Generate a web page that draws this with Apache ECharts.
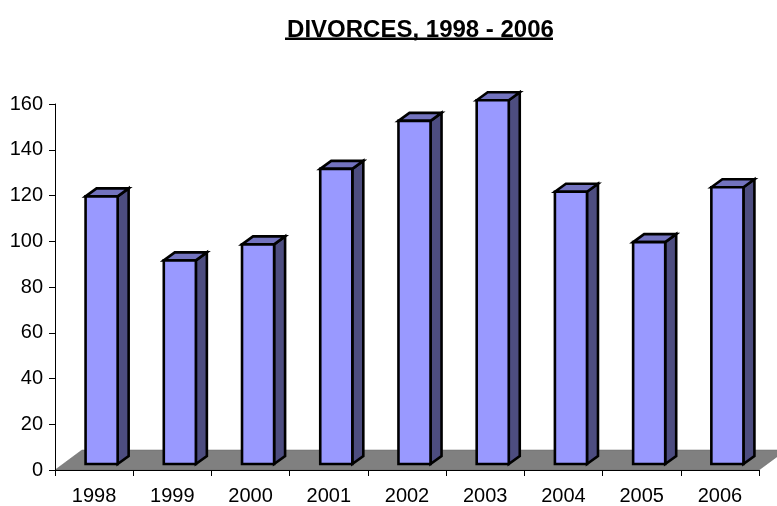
<!DOCTYPE html>
<html><head><meta charset="utf-8">
<style>html,body{margin:0;padding:0;background:#fff}#c{width:777px;height:506px}</style>
<script src="https://cdn.jsdelivr.net/npm/echarts@6/dist/echarts.min.js"></script>
</head><body><div id="c"></div>
<script>
const titleText = 'DIVORCES, 1998 - 2006';
const years = ['1998','1999','2000','2001','2002','2003','2004','2005','2006'];
const divorces = [117, 89, 96, 129, 150, 159, 119, 97, 121];
const yTicks = {min: 0, max: 160, interval: 20};

const font = '"Liberation Sans", Arial, sans-serif';
const floorDepth = [27, -20];
const barShift = [7.5, -6];
const barDepth = [11, -8];
const barFrac = 0.41;
const colors = {front: '#9999FF', side: '#4D4D80', top: '#7373BF', floor: '#808080'};

function poly(points, fill, strokeW) {
  return {type: 'polygon', shape: {points}, style: {fill, stroke: '#000', lineWidth: strokeW, lineJoin: 'miter'}};
}
const chart = echarts.init(document.getElementById('c'), null, {renderer: 'canvas'});
chart.setOption({
  animation: false,
  backgroundColor: '#fff',
  title: {text: titleText, left: 415.5, top: 13, textAlign: 'center',
    textStyle: {fontFamily: font, fontSize: 24, fontWeight: 'bold', color: '#000'}},
  graphic: [{type: 'rect', shape: {x: 285, y: 37.5, width: 268, height: 2.5}, style: {fill: '#000'}}],
  grid: {left: 55, right: 18, top: 104, bottom: 36},
  xAxis: {type: 'category', data: years, z: 5,
    axisLine: {lineStyle: {color: '#000', width: 1}},
    axisTick: {show: true, length: 6, alignWithLabel: false, lineStyle: {color: '#000'}},
    axisLabel: {fontFamily: font, fontSize: 20, color: '#000', margin: 16, interval: 0},
    splitLine: {show: false}},
  yAxis: {type: 'value', min: yTicks.min, max: yTicks.max, interval: yTicks.interval, z: 5,
    axisLine: {show: true, lineStyle: {color: '#000', width: 1}},
    axisTick: {show: true, length: 6, lineStyle: {color: '#000'}},
    axisLabel: {fontFamily: font, fontSize: 20, color: '#000', margin: 12, padding: [0, 0, 3, 0]},
    splitLine: {show: false}},
  series: [
    {type: 'custom', z: 1, silent: true, clip: false, data: [[0, 0]],
      renderItem(params) {
        const c = params.coordSys, b = c.y + c.height, l = c.x, r = c.x + c.width;
        return {type: 'polygon', shape: {points: [[l, b], [r, b],
          [r + floorDepth[0], b + floorDepth[1]], [l + floorDepth[0], b + floorDepth[1]]]},
          style: {fill: colors.floor, stroke: '#666', lineWidth: 0.5}};
      }},
    {type: 'custom', z: 2, silent: true, clip: false,
      data: divorces.map((v, i) => [i, v]),
      encode: {x: 0, y: 1},
      renderItem(params, api) {
        const top = api.coord([api.value(0), api.value(1)]);
        const base = api.coord([api.value(0), 0]);
        const w = api.size([1, 0])[0] * barFrac;
        const x0 = top[0] - w / 2 + barShift[0], x1 = x0 + w;
        const yt = top[1] + barShift[1], yb = base[1] + barShift[1];
        const dx = barDepth[0], dy = barDepth[1];
        return {type: 'group', children: [
          poly([[x1, yt], [x1 + dx, yt + dy], [x1 + dx, yb + dy], [x1, yb]], colors.side, 2.6),
          poly([[x0, yt], [x0 + dx, yt + dy], [x1 + dx, yt + dy], [x1, yt]], colors.top, 2.6),
          poly([[x0, yt], [x1, yt], [x1, yb], [x0, yb]], colors.front, 2.6)
        ]};
      }}
  ]
});
</script></body></html>
